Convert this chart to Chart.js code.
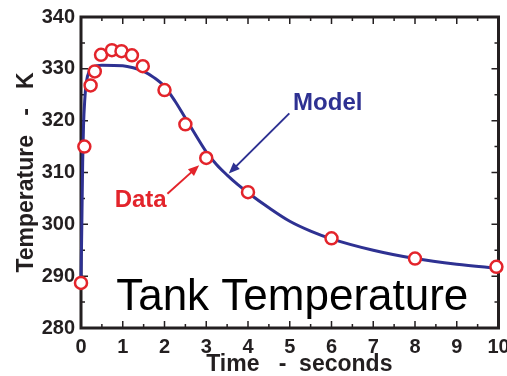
<!DOCTYPE html>
<html>
<head>
<meta charset="utf-8">
<script src="https://cdn.jsdelivr.net/npm/chart.js@4.4.1/dist/chart.umd.min.js"></script>
<style>
  html, body { margin: 0; padding: 0; background: #fff; }
  #wrap { width: 507px; height: 376px; }
</style>
</head>
<body>
<div id="wrap"><canvas id="tankChart"></canvas></div>
<script>
// model curve (seconds, kelvin)
const modelTime = [0, 0.02, 0.04, 0.06, 0.09, 0.13, 0.2, 0.3, 0.5, 1.0, 1.25, 1.5, 1.75, 2.0, 2.25, 2.5, 2.75, 3.0, 3.25, 3.5, 3.75, 4.0, 4.5, 5.0, 5.5, 6.0, 7.0, 8.0, 9.0, 10.0];
const modelTemp = [289, 300, 312, 319, 324, 327.5, 329.6, 330.4, 330.7, 330.6, 330.2, 329.5, 328.3, 326.6, 323.8, 320.5, 317.2, 314.0, 311.5, 309.5, 307.7, 306.1, 303.2, 300.6, 298.7, 297.2, 295.0, 293.4, 292.3, 291.5];

// measured points
const dataTime = [0, 0.08, 0.23, 0.33, 0.48, 0.74, 0.97, 1.22, 1.48, 2.0, 2.5, 3.0, 4.0, 6.0, 8.0, 9.95];
const dataTemp = [288.7, 315, 326.8, 329.5, 332.7, 333.6, 333.4, 332.6, 330.5, 325.9, 319.3, 312.8, 306.2, 297.3, 293.4, 291.8];

const xTicks = [0, 1, 2, 3, 4, 5, 6, 7, 8, 9, 10];
const yTicks = [280, 290, 300, 310, 320, 330, 340];

const red = '#e3242b';
const blue = '#2e3192';
const ink = '#231f20';

// annotation anchors in data units
const dataLabelAt = [1.43, 304.6];
const dataArrow = [[2.07, 305.9], [2.83, 311.4]];
const modelLabelAt = [5.91, 323.4];
const modelArrow = [[4.99, 321.4], [3.54, 309.8]];
const titleAt = [5.06, 285.8];

function midpoints(arr) {
    const out = [];
    for (let i = 0; i < arr.length - 1; i++) out.push((arr[i] + arr[i + 1]) / 2);
    return out;
}

function arrow(ctx, x0, y0, x1, y1, color) {
    const ang = Math.atan2(y1 - y0, x1 - x0);
    const len = 11, half = 4.5;
    ctx.strokeStyle = color;
    ctx.fillStyle = color;
    ctx.lineWidth = 2;
    ctx.beginPath();
    ctx.moveTo(x0, y0);
    ctx.lineTo(x1 - Math.cos(ang) * len * 0.8, y1 - Math.sin(ang) * len * 0.8);
    ctx.stroke();
    ctx.beginPath();
    ctx.moveTo(x1, y1);
    ctx.lineTo(x1 - Math.cos(ang) * len - Math.sin(ang) * half, y1 - Math.sin(ang) * len + Math.cos(ang) * half);
    ctx.lineTo(x1 - Math.cos(ang) * len + Math.sin(ang) * half, y1 - Math.sin(ang) * len - Math.cos(ang) * half);
    ctx.closePath();
    ctx.fill();
}

const framePlugin = {
    id: 'frame',
    beforeDatasetsDraw(chart) {
        const { ctx, chartArea: a, scales: { x, y } } = chart;
        ctx.save();
        ctx.strokeStyle = ink;
        ctx.lineWidth = 1.5;
        ctx.beginPath();
        const xt = [...xTicks.map(v => [v, 7]), ...midpoints(xTicks).map(v => [v, 4])];
        xt.forEach(([v, l]) => {
            const px = x.getPixelForValue(v);
            ctx.moveTo(px, a.bottom); ctx.lineTo(px, a.bottom - l);
            ctx.moveTo(px, a.top); ctx.lineTo(px, a.top + l);
        });
        const yt = [...yTicks.map(v => [v, 7]), ...midpoints(yTicks).map(v => [v, 4])];
        yt.forEach(([v, l]) => {
            const py = y.getPixelForValue(v);
            ctx.moveTo(a.left, py); ctx.lineTo(a.left + l, py);
            ctx.moveTo(a.right, py); ctx.lineTo(a.right - l, py);
        });
        ctx.stroke();
        ctx.lineWidth = 3;
        ctx.strokeRect(a.left, a.top, a.width, a.height);
        ctx.restore();
    },
    afterDraw(chart) {
        const { ctx, scales: { x, y } } = chart;
        const px = p => [x.getPixelForValue(p[0]), y.getPixelForValue(p[1])];
        ctx.save();
        ctx.textAlign = 'center';
        ctx.textBaseline = 'middle';

        ctx.fillStyle = '#000';
        ctx.font = '44px "Liberation Sans", Arial, sans-serif';
        ctx.fillText('Tank Temperature', ...px(titleAt));

        ctx.fillStyle = red;
        ctx.font = 'bold 24px "Liberation Sans", Arial, sans-serif';
        ctx.fillText('Data', ...px(dataLabelAt));
        arrow(ctx, ...px(dataArrow[0]), ...px(dataArrow[1]), red);

        ctx.fillStyle = blue;
        ctx.font = 'bold 24px "Liberation Sans", Arial, sans-serif';
        ctx.fillText('Model', ...px(modelLabelAt));
        arrow(ctx, ...px(modelArrow[0]), ...px(modelArrow[1]), blue);
        ctx.restore();
    }
};

const tickFont = { family: '"Liberation Sans", Arial, sans-serif', size: 20, weight: 'bold' };
const titleFont = { family: '"Liberation Sans", Arial, sans-serif', size: 23, weight: 'bold', lineHeight: 1 };

new Chart(document.getElementById('tankChart'), {
    type: 'scatter',
    data: {
        datasets: [
            {
                label: 'Data',
                data: dataTime.map((t, i) => ({ x: t, y: dataTemp[i] })),
                pointRadius: 6,
                pointBorderWidth: 2.5,
                pointBorderColor: red,
                pointBackgroundColor: '#fff',
                order: 1
            },
            {
                label: 'Model',
                data: modelTime.map((t, i) => ({ x: t, y: modelTemp[i] })),
                showLine: true,
                borderColor: blue,
                borderWidth: 3,
                pointRadius: 0,
                cubicInterpolationMode: 'monotone',
                order: 2
            }
        ]
    },
    options: {
        responsive: true,
        maintainAspectRatio: false,
        animation: false,
        clip: false,
        layout: { padding: { top: 17, right: 3, left: 0, bottom: 0 } },
        plugins: { legend: { display: false }, tooltip: { enabled: false } },
        scales: {
            x: {
                type: 'linear',
                min: 0,
                max: 10,
                grid: { display: false, drawTicks: false },
                border: { display: false },
                afterBuildTicks: s => { s.ticks = xTicks.map(v => ({ value: v })); },
                ticks: { font: tickFont, color: ink, padding: 7, maxRotation: 0 },
                title: { display: true, text: '   Time   -  seconds', font: titleFont, color: ink, padding: { top: 0, bottom: 0 } },
                afterFit: s => { s.height = 48; s.paddingLeft = 0; s.paddingRight = 0; }
            },
            y: {
                min: 280,
                max: 340,
                grid: { display: false, drawTicks: false },
                border: { display: false },
                afterBuildTicks: s => { s.ticks = yTicks.map(v => ({ value: v })); },
                ticks: { font: tickFont, color: ink, padding: 6 },
                title: { display: true, text: 'Temperature   -   K', font: titleFont, color: ink, padding: { top: 15, bottom: 0 } },
                afterFit: s => { s.width = 81; s.paddingTop = 0; s.paddingBottom = 0; }
            }
        }
    },
    plugins: [framePlugin]
});
</script>
</body>
</html>
